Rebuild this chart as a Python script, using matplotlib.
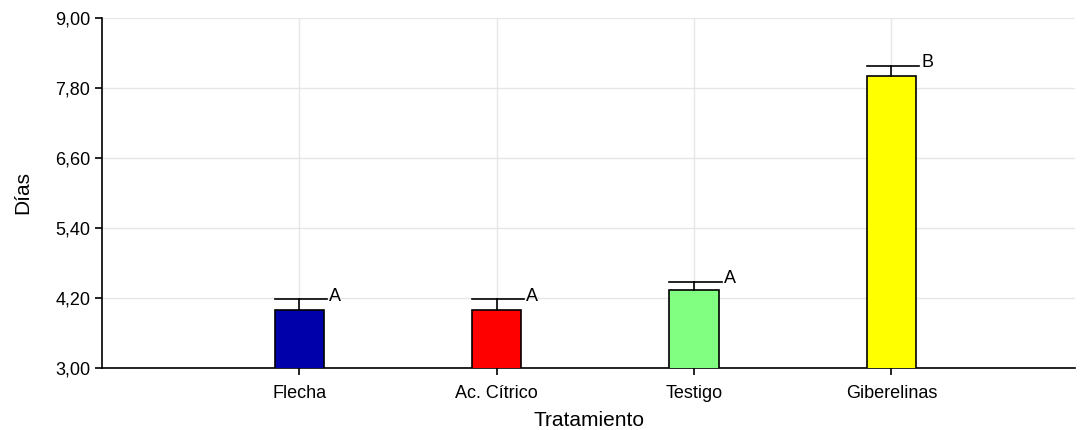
import matplotlib
matplotlib.use('Agg')
import matplotlib.pyplot as plt
from matplotlib.ticker import FuncFormatter

# datos del ensayo
tratamientos = ['Flecha', 'Ac. Cítrico', 'Testigo', 'Giberelinas']
dias = [4.00, 4.00, 4.33, 8.00]
error = [0.18, 0.18, 0.15, 0.18]
letras = ['A', 'A', 'A', 'B']
colores = ['#0000AA', '#FF0000', '#80FF80', '#FFFF00']
yticks = [3.00, 4.20, 5.40, 6.60, 7.80, 9.00]

plt.rcParams['font.family'] = ['Liberation Sans', 'DejaVu Sans']

fig = plt.figure(figsize=(10.82, 4.30), dpi=100)
ax = fig.add_axes([102 / 1082, 62 / 430, 973 / 1082, 350 / 430])

x = list(range(1, len(tratamientos) + 1))
ancho = 0.25

ax.bar(x, dias, width=ancho, color=colores, edgecolor='black', linewidth=1.2, zorder=3)

# barras de error solo hacia arriba
for xi, d, e, l in zip(x, dias, error, letras):
    ax.plot([xi, xi], [d, d + e], color='black', lw=1.2, zorder=3, clip_on=False)
    ax.plot([xi - ancho / 2, xi + ancho / 2 + 0.015], [d + e, d + e],
            color='black', lw=1.2, zorder=3, clip_on=False)
    ax.annotate(l, (xi + ancho / 2 + 0.025, d + e), xytext=(0, -4),
                textcoords='offset points', ha='left', va='bottom', fontsize=13)

ax.set_xlim(0, 4.93)
ax.set_ylim(3.0, 9.0)
ax.set_xticks(x)
ax.set_xticklabels(tratamientos, fontsize=13)
ax.set_yticks(yticks)
ax.yaxis.set_major_formatter(FuncFormatter(lambda v, p: f'{v:.2f}'.replace('.', ',')))
ax.tick_params(axis='y', labelsize=13, length=5, width=1.2, direction='out')
ax.tick_params(axis='x', length=5, width=1.2, direction='out', pad=7)

ax.grid(True, color='#E6E6E6', linewidth=1, zorder=0)
for s in ['top', 'right']:
    ax.spines[s].set_visible(False)
for s in ['left', 'bottom']:
    ax.spines[s].set_linewidth(1.2)

ax.set_xlabel('Tratamiento', fontsize=15, labelpad=7)
ax.set_ylabel('Días', fontsize=15, labelpad=16)

plt.savefig('out.png', dpi=100)
